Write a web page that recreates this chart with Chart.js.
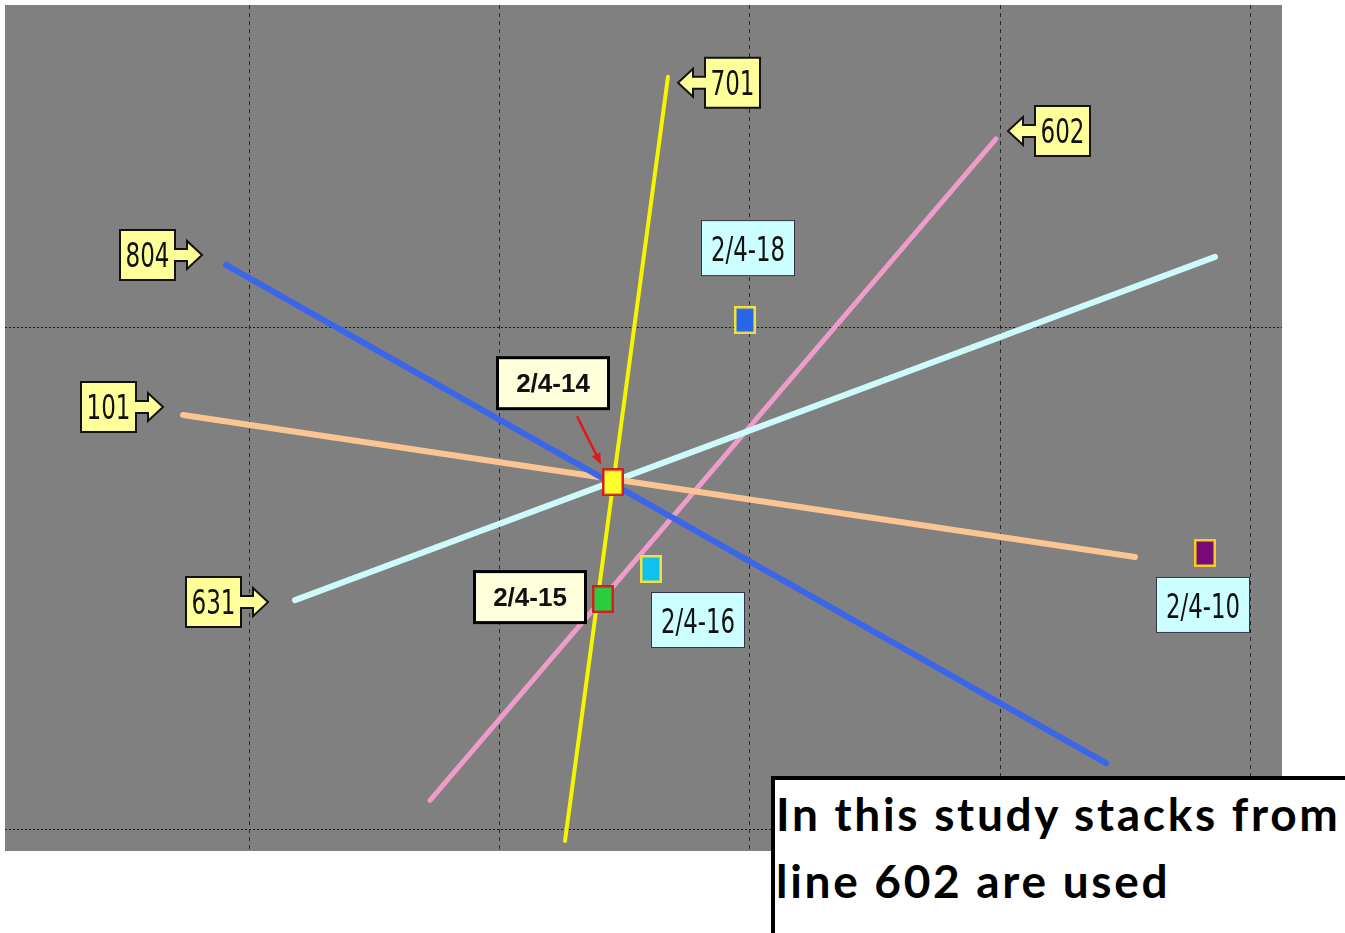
<!DOCTYPE html>
<html>
<head>
<meta charset="utf-8">
<script src="https://cdn.jsdelivr.net/npm/chart.js@4.4.1/dist/chart.umd.min.js"></script>
<style>
html, body { margin: 0; padding: 0; background: #fff; overflow: hidden; width: 1345px; height: 933px; }
#wrap { position: relative; width: 1345px; height: 933px; }
#note {
  position: absolute; left: 771px; top: 776px; width: 620px; height: 200px;
  box-sizing: border-box; border: 4px solid #000; border-right: none; background: #fff;
  font: bold 46px Lato, "Open Sans", sans-serif; line-height: 67px; color: #000;
  letter-spacing: 2.7px; padding-left: 1px; white-space: nowrap;
}
</style>
</head>
<body>
<div id="wrap">
  <canvas id="chart" width="1345" height="933"></canvas>
  <div id="note">In this study stacks from<br>line 602 are used</div>
</div>
<script>
// grid positions (axis units)
const gridX = [1, 2, 3, 4, 5];
const gridY = [1, 2];

// lines (two end points each)
const lineNames = ['804', '701', '101', '631', '602'];
const line804X = [0.904, 4.424], line804Y = [2.125, 1.132];
const line701X = [2.26, 2.672],  line701Y = [0.977, 2.500];
const line101X = [0.732, 4.54],  line101Y = [1.826, 1.543];
const line631X = [1.18, 4.86],   line631Y = [1.457, 2.141];
const line602X = [1.72, 3.984],  line602Y = [1.058, 2.376];
const lineX = { '804': line804X, '701': line701X, '101': line101X, '631': line631X, '602': line602X };
const lineY = { '804': line804Y, '701': line701Y, '101': line101Y, '631': line631Y, '602': line602Y };

// stacks
const stackLabels = ['2/4-10', '2/4-14', '2/4-15', '2/4-16', '2/4-18'];
const stackX = [4.82, 2.452, 2.412, 2.604, 2.98];
const stackY = [1.551, 1.692, 1.459, 1.519, 2.015];

// styling
const lineStyle = {
  '804': { color: '#3b66ea', width: 6, order: 1, end: 0, dx: -24, dy: -10, dir: 'right' },
  '701': { color: '#f5f500', width: 4, order: 2, end: 1, dx: 10, dy: 6, dir: 'left' },
  '101': { color: '#fbc593', width: 6, order: 3, end: 0, dx: -20, dy: -8, dir: 'right' },
  '631': { color: '#cdfafa', width: 6, order: 4, end: 0, dx: -27, dy: 2, dir: 'right' },
  '602': { color: '#ef9cc8', width: 5, order: 5, end: 1, dx: 12, dy: -8, dir: 'left' }
};
const stackStyle = {
  '2/4-10': { fill: '#7a0a78', edge: '#f0d020', dx: -2, dy: 52, kind: 'plain' },
  '2/4-14': { fill: '#ffff30', edge: '#d02020', dx: -60, dy: -99, kind: 'bold', arrow: true },
  '2/4-15': { fill: '#2ecc40', edge: '#d02020', dx: -73, dy: -2, kind: 'bold' },
  '2/4-16': { fill: '#10c0f0', edge: '#f0e040', dx: 47, dy: 51, kind: 'plain' },
  '2/4-18': { fill: '#2a66e8', edge: '#f0e040', dx: 3, dy: -72, kind: 'plain' }
};
const narrowFont = '"Liberation Sans Narrow", "DejaVu Sans Condensed", "Liberation Sans", sans-serif';

function markerImage(fill, edge) {
  const c = document.createElement('canvas');
  c.width = 22; c.height = 28;
  const g = c.getContext('2d');
  g.fillStyle = edge; g.fillRect(0, 0, 22, 28);
  g.fillStyle = fill; g.fillRect(2.5, 2.5, 17, 23);
  return c;
}

function drawCallout(ctx, tx, ty, dir, text) {
  const s = dir === 'right' ? -1 : 1;
  const gap = 27, bw = 55, bh = 50, head = 15, hh = 14, sh = 6;
  const near = tx + s * gap, far = near + s * bw, hx = tx + s * head;
  ctx.beginPath();
  ctx.moveTo(near, ty - bh / 2);
  ctx.lineTo(far, ty - bh / 2);
  ctx.lineTo(far, ty + bh / 2);
  ctx.lineTo(near, ty + bh / 2);
  ctx.lineTo(near, ty + sh);
  ctx.lineTo(hx, ty + sh);
  ctx.lineTo(hx, ty + hh);
  ctx.lineTo(tx, ty);
  ctx.lineTo(hx, ty - hh);
  ctx.lineTo(hx, ty - sh);
  ctx.lineTo(near, ty - sh);
  ctx.closePath();
  ctx.fillStyle = '#ffff99';
  ctx.fill();
  ctx.lineWidth = 2;
  ctx.strokeStyle = '#111';
  ctx.stroke();
  ctx.fillStyle = '#111';
  ctx.font = '33px ' + narrowFont;
  ctx.textAlign = 'center';
  ctx.textBaseline = 'alphabetic';
  ctx.fillText(text, (near + far) / 2, ty + 12, 44);
}

function drawTag(ctx, cx, cy, text, kind) {
  ctx.textAlign = 'center';
  ctx.textBaseline = 'alphabetic';
  if (kind === 'bold') {
    const w = 111, h = 51;
    ctx.fillStyle = '#ffffdc';
    ctx.fillRect(cx - w / 2, cy - h / 2, w, h);
    ctx.lineWidth = 3;
    ctx.strokeStyle = '#000';
    ctx.strokeRect(cx - w / 2, cy - h / 2, w, h);
    ctx.fillStyle = '#111';
    ctx.font = 'bold 26px "Liberation Sans", Arial, sans-serif';
    ctx.fillText(text, cx, cy + 9, 78);
  } else {
    const w = 93, h = 55;
    ctx.fillStyle = '#ccffff';
    ctx.fillRect(cx - w / 2, cy - h / 2, w, h);
    ctx.lineWidth = 1;
    ctx.strokeStyle = '#334';
    ctx.strokeRect(cx - w / 2, cy - h / 2, w, h);
    ctx.fillStyle = '#111';
    ctx.font = '34px ' + narrowFont;
    ctx.fillText(text, cx, cy + 13, 74);
  }
}

const background = {
  id: 'background',
  beforeDraw(chart) {
    const { ctx, chartArea: a } = chart;
    ctx.save();
    ctx.fillStyle = '#808080';
    ctx.fillRect(a.left, a.top, a.right - a.left, a.bottom - a.top);
    ctx.restore();
  }
};

const labels = {
  id: 'labels',
  afterDatasetsDraw(chart) {
    const ctx = chart.ctx;
    ctx.save();
    lineNames.forEach((n, i) => {
      const st = lineStyle[n];
      const pt = chart.getDatasetMeta(i).data[st.end];
      drawCallout(ctx, pt.x + st.dx, pt.y + st.dy, st.dir, n);
    });
    const meta = chart.getDatasetMeta(lineNames.length);
    stackLabels.forEach((lab, i) => {
      const st = stackStyle[lab];
      const pt = meta.data[i];
      const cx = pt.x + st.dx, cy = pt.y + st.dy;
      drawTag(ctx, cx, cy, lab, st.kind);
      if (st.arrow) {
        const x0 = cx + 24, y0 = cy + 33, x1 = pt.x - 12, y1 = pt.y - 18;
        const ang = Math.atan2(y1 - y0, x1 - x0);
        ctx.strokeStyle = '#e01818';
        ctx.fillStyle = '#e01818';
        ctx.lineWidth = 2.5;
        ctx.beginPath();
        ctx.moveTo(x0, y0);
        ctx.lineTo(x1 - 8 * Math.cos(ang), y1 - 8 * Math.sin(ang));
        ctx.stroke();
        ctx.beginPath();
        ctx.moveTo(x1, y1);
        ctx.lineTo(x1 - 12 * Math.cos(ang - 0.4), y1 - 12 * Math.sin(ang - 0.4));
        ctx.lineTo(x1 - 12 * Math.cos(ang + 0.4), y1 - 12 * Math.sin(ang + 0.4));
        ctx.closePath();
        ctx.fill();
      }
    });
    ctx.restore();
  }
};

const datasets = lineNames.map(n => ({
  type: 'line',
  label: 'Line ' + n,
  data: lineX[n].map((x, i) => ({ x: x, y: lineY[n][i] })),
  borderColor: lineStyle[n].color,
  borderWidth: lineStyle[n].width,
  borderCapStyle: 'round',
  pointRadius: 0,
  fill: false,
  order: lineStyle[n].order
}));
datasets.push({
  type: 'scatter',
  label: 'Stacks',
  data: stackX.map((x, i) => ({ x: x, y: stackY[i] })),
  pointStyle: stackLabels.map(l => markerImage(stackStyle[l].fill, stackStyle[l].edge)),
  pointRadius: 12,
  order: 0
});

new Chart(document.getElementById('chart'), {
  type: 'scatter',
  data: { datasets: datasets },
  plugins: [background, labels],
  options: {
    responsive: false,
    animation: false,
    layout: { autoPadding: false, padding: { left: 5, top: 5, right: 63, bottom: 82 } },
    plugins: { legend: { display: false }, tooltip: { enabled: false } },
    scales: {
      x: {
        type: 'linear', min: 0.02, max: 5.128,
        afterBuildTicks: s => { s.ticks = gridX.map(v => ({ value: v })); },
        ticks: { display: false },
        grid: { color: '#2a2a2a', lineWidth: 1, drawTicks: false },
        border: { display: false, dash: [4, 4] }
      },
      y: {
        type: 'linear', min: 0.957, max: 2.643,
        afterBuildTicks: s => { s.ticks = gridY.map(v => ({ value: v })); },
        ticks: { display: false },
        grid: { color: '#1a1a1a', lineWidth: 1, drawTicks: false },
        border: { display: false, dash: [2, 2] }
      }
    }
  }
});
</script>
</body>
</html>
